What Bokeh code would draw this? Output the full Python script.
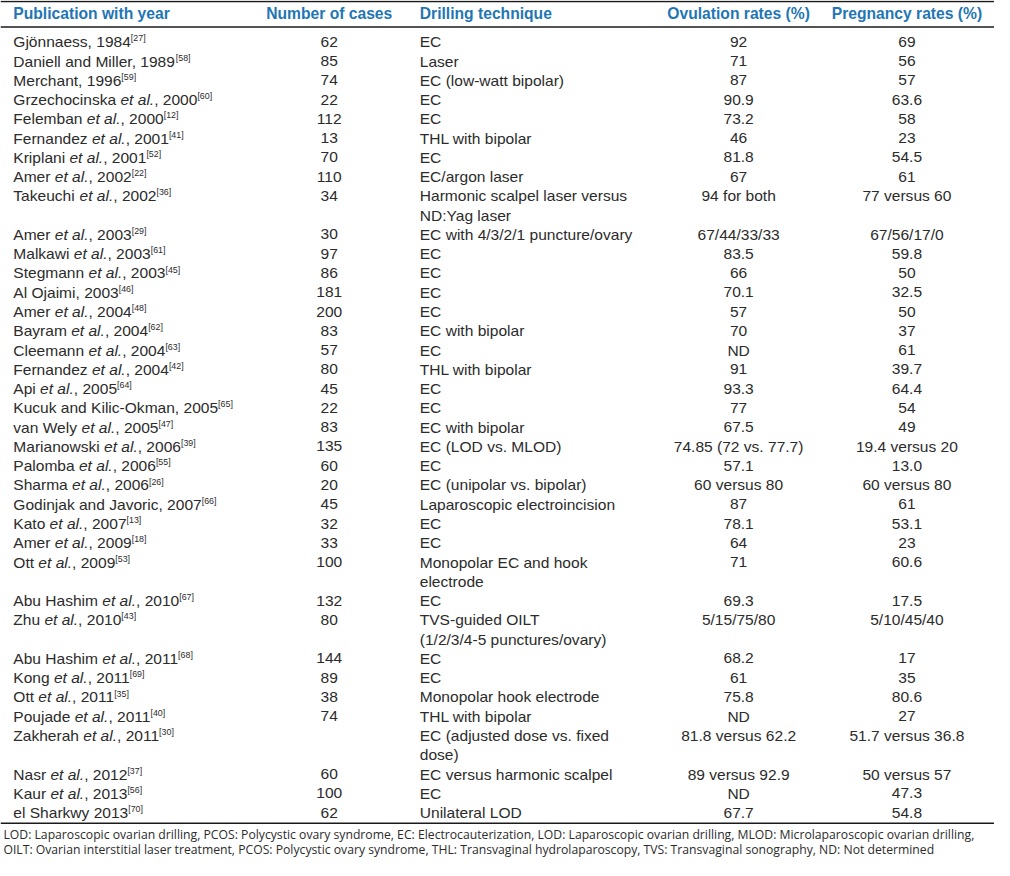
from bokeh.plotting import figure
from bokeh.models import Range1d
from bokeh.embed import file_html
from bokeh.resources import INLINE
from bokeh.core.properties import value

# ---------------- data ----------------
headers = ["Publication with year", "Number of cases", "Drilling technique",
           "Ovulation rates (%)", "Pregnancy rates (%)"]

# "*...*" marks the italic part
publications = [
    "Gjönnaess, 1984", "Daniell and Miller, 1989", "Merchant, 1996",
    "Grzechocinska *et al.*, 2000", "Felemban *et al.*, 2000", "Fernandez *et al.*, 2001",
    "Kriplani *et al.*, 2001", "Amer *et al.*, 2002", "Takeuchi *et al.*, 2002",
    "Amer *et al.*, 2003", "Malkawi *et al.*, 2003", "Stegmann *et al.*, 2003",
    "Al Ojaimi, 2003", "Amer *et al.*, 2004", "Bayram *et al.*, 2004",
    "Cleemann *et al.*, 2004", "Fernandez *et al.*, 2004", "Api *et al.*, 2005",
    "Kucuk and Kilic-Okman, 2005", "van Wely *et al.*, 2005", "Marianowski *et al.*, 2006",
    "Palomba *et al.*, 2006", "Sharma *et al.*, 2006", "Godinjak and Javoric, 2007",
    "Kato *et al.*, 2007", "Amer *et al.*, 2009", "Ott *et al.*, 2009",
    "Abu Hashim *et al.*, 2010", "Zhu *et al.*, 2010", "Abu Hashim *et al.*, 2011",
    "Kong *et al.*, 2011", "Ott *et al.*, 2011", "Poujade *et al.*, 2011",
    "Zakherah *et al.*, 2011", "Nasr *et al.*, 2012", "Kaur *et al.*, 2013",
    "el Sharkwy 2013",
]
refs = [27, 58, 59, 60, 12, 41, 52, 22, 36, 29, 61, 45, 46, 48, 62, 63, 42, 64, 65,
        47, 39, 55, 26, 66, 13, 18, 53, 67, 43, 68, 69, 35, 40, 30, 37, 56, 70]
cases = ["62", "85", "74", "22", "112", "13", "70", "110", "34", "30", "97", "86", "181",
         "200", "83", "57", "80", "45", "22", "83", "135", "60", "20", "45", "32", "33",
         "100", "132", "80", "144", "89", "38", "74", "", "60", "100", "62"]
techniques = [
    "EC", "Laser", "EC (low-watt bipolar)", "EC", "EC", "THL with bipolar", "EC",
    "EC/argon laser", "Harmonic scalpel laser versus\nND:Yag laser",
    "EC with 4/3/2/1 puncture/ovary", "EC", "EC", "EC", "EC", "EC with bipolar", "EC",
    "THL with bipolar", "EC", "EC", "EC with bipolar", "EC (LOD vs. MLOD)", "EC",
    "EC (unipolar vs. bipolar)", "Laparoscopic electroincision", "EC", "EC",
    "Monopolar EC and hook\nelectrode", "EC", "TVS-guided OILT\n(1/2/3/4-5 punctures/ovary)",
    "EC", "EC", "Monopolar hook electrode", "THL with bipolar",
    "EC (adjusted dose vs. fixed\ndose)", "EC versus harmonic scalpel", "EC", "Unilateral LOD",
]
ovulation = ["92", "71", "87", "90.9", "73.2", "46", "81.8", "67", "94 for both",
             "67/44/33/33", "83.5", "66", "70.1", "57", "70", "ND", "91", "93.3", "77",
             "67.5", "74.85 (72 vs. 77.7)", "57.1", "60 versus 80", "87", "78.1", "64",
             "71", "69.3", "5/15/75/80", "68.2", "61", "75.8", "ND", "81.8 versus 62.2",
             "89 versus 92.9", "ND", "67.7"]
pregnancy = ["69", "56", "57", "63.6", "58", "23", "54.5", "61", "77 versus 60",
             "67/56/17/0", "59.8", "50", "32.5", "50", "37", "61", "39.7", "64.4", "54",
             "49", "19.4 versus 20", "13.0", "60 versus 80", "61", "53.1", "23", "60.6",
             "17.5", "5/10/45/40", "17", "35", "80.6", "27", "51.7 versus 36.8",
             "50 versus 57", "47.3", "54.8"]
footnotes = [
    "LOD: Laparoscopic ovarian drilling, PCOS: Polycystic ovary syndrome, EC: Electrocauterization, "
    "LOD: Laparoscopic ovarian drilling, MLOD: Microlaparoscopic ovarian drilling,",
    "OILT: Ovarian interstitial laser treatment, PCOS: Polycystic ovary syndrome, THL: Transvaginal "
    "hydrolaparoscopy, TVS: Transvaginal sonography, ND: Not determined",
]

# ---------------- layout ----------------
REF_W, REF_H = 1010, 876
W, H = 994, 860
sx = W / REF_W
FONT = "Liberation Sans"
FOOT_FONT = "Open Sans"
BODY_PX, HEAD_PX, SUP_PX, FOOT_PX = 15.8, 15.9, 9.0, 12.4
TEXT_C, HEAD_C, LINE_C = "#2b2b2b", "#1f76b4", "#1a1a1a"
col_x = [13, 334, 426, 750, 921]
col_align = ["left", "center", "left", "center", "center"]
HEAD_Y, ROW0, PITCH = 13.5, 42, 19.63
LINES_Y = [1, 27, 838]
FOOT_Y = [849.5, 864.5]
FOOT_X = 3

# Arial / Liberation Sans advance widths (per 1000 em) and a few kerning pairs
ADV = {' ': 278, ',': 278, '.': 278, '-': 333, 'ö': 556}
ADV.update({d: 556 for d in "0123456789"})
ADV.update(dict(zip("ABCDEFGHIJKLMNOPQRSTUVWXYZ",
                    [667, 667, 722, 722, 667, 611, 778, 722, 278, 500, 667, 556, 833, 722,
                     778, 667, 778, 722, 667, 611, 722, 667, 944, 667, 667, 611])))
ADV.update(dict(zip("abcdefghijklmnopqrstuvwxyz",
                    [556, 556, 500, 556, 556, 278, 556, 556, 222, 222, 500, 222, 833, 556,
                     556, 556, 556, 333, 500, 278, 556, 500, 722, 500, 500, 500])))
KERN = {"11": -74, "Ta": -74}


def width(s, px):
    w = sum(ADV.get(c, 556) for c in s)
    w += sum(KERN.get(s[k:k + 2], 0) for k in range(len(s) - 1))
    return w * px / 1000.0


def fs(px):
    return f"{px * sx:.2f}px"


p = figure(width=W, height=H, output_backend="svg", toolbar_location=None,
           x_range=Range1d(0, REF_W), y_range=Range1d(REF_H, 0),
           min_border=0, outline_line_color=None)
p.axis.visible = False
p.grid.visible = False
p.background_fill_color = "white"
p.border_fill_color = "white"

# rules
p.segment(x0=[0] * 3, x1=[REF_W] * 3, y0=LINES_Y, y1=LINES_Y,
          line_color=LINE_C, line_width=1.5)

# headers
for hx, ha, ht in zip(col_x, col_align, headers):
    p.text(x=[hx], y=[HEAD_Y], text=[ht], text_font=value(FONT), text_font_size=fs(HEAD_PX),
           text_font_style="bold", text_color=HEAD_C, text_align=ha, text_baseline="middle")

# body rows
norm = dict(x=[], y=[], t=[])
ital = dict(x=[], y=[], t=[])
sup = dict(x=[], y=[], t=[])
cols = {1: dict(x=[], y=[], t=[]), 2: dict(x=[], y=[], t=[]),
        3: dict(x=[], y=[], t=[]), 4: dict(x=[], y=[], t=[])}
line = 0
for i, pub in enumerate(publications):
    y = ROW0 + PITCH * line
    x = col_x[0]
    for k, seg in enumerate(pub.split("*")):
        if seg:
            tgt = ital if k % 2 else norm
            tgt["x"].append(x); tgt["y"].append(y); tgt["t"].append(seg)
            x += width(seg, BODY_PX)
    sup["x"].append(x); sup["y"].append(y - 3.5); sup["t"].append(f"[{refs[i]}]")
    for c, vals in ((1, cases), (3, ovulation), (4, pregnancy)):
        cols[c]["x"].append(col_x[c]); cols[c]["y"].append(y); cols[c]["t"].append(vals[i])
    tl = techniques[i].split("\n")
    for j, s in enumerate(tl):
        cols[2]["x"].append(col_x[2]); cols[2]["y"].append(y + PITCH * j); cols[2]["t"].append(s)
    line += len(tl)

p.text(x=norm["x"], y=norm["y"], text=norm["t"], text_font=value(FONT),
       text_font_size=fs(BODY_PX), text_color=TEXT_C, text_align="left", text_baseline="middle")
p.text(x=ital["x"], y=ital["y"], text=ital["t"], text_font=value(FONT),
       text_font_size=fs(BODY_PX), text_font_style="italic", text_color=TEXT_C,
       text_align="left", text_baseline="middle")
p.text(x=sup["x"], y=sup["y"], text=sup["t"], text_font=value(FONT),
       text_font_size=fs(SUP_PX), text_color=TEXT_C, text_align="left", text_baseline="middle")
for c, d in cols.items():
    p.text(x=d["x"], y=d["y"], text=d["t"], text_font=value(FONT), text_font_size=fs(BODY_PX),
           text_color=TEXT_C, text_align=col_align[c], text_baseline="middle")

# footnotes
p.text(x=[FOOT_X] * 2, y=FOOT_Y, text=footnotes, text_font=value(FOOT_FONT),
       text_font_size=fs(FOOT_PX), text_color=TEXT_C, text_align="left", text_baseline="middle")

open("out.html", "w").write(file_html(p, INLINE))
